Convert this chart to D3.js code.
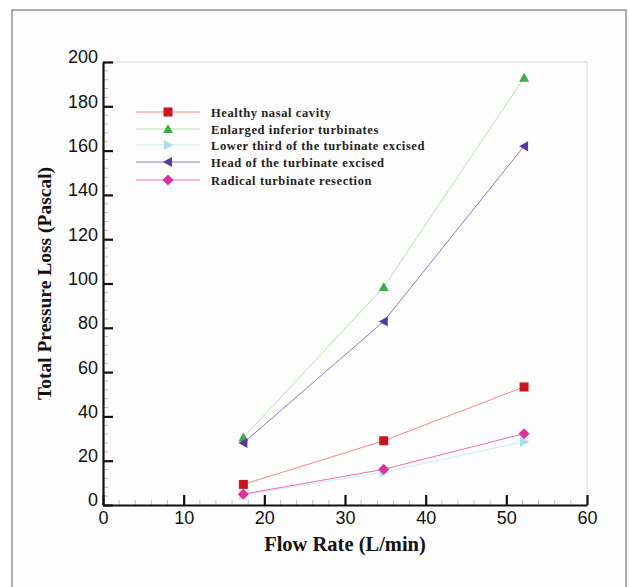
<!DOCTYPE html>
<html>
<head>
<meta charset="utf-8">
<script src="https://cdn.jsdelivr.net/npm/d3@7"></script>
<style>
  body { margin: 0; background: #ffffff; }
  svg { display: block; }
</style>
</head>
<body>
<div id="chart"></div>
<script>
// data
var flowRates = [17.4, 34.8, 52.2];
var seriesNames = [
  "Healthy nasal cavity",
  "Enlarged inferior turbinates",
  "Lower third of the turbinate excised",
  "Head of the turbinate excised",
  "Radical turbinate resection"
];
var healthy = [9.3, 29, 53.3];
var enlarged = [30.5, 98.4, 192.9];
var lowerThird = [4.6, 14.8, 28.6];
var headExcised = [28, 82.9, 162];
var radical = [4.9, 16.1, 32.2];
var xTicks = [0, 10, 20, 30, 40, 50, 60];
var yTicks = [0, 20, 40, 60, 80, 100, 120, 140, 160, 180, 200];

var W = 629, H = 587;
var margin = {left: 103, right: 42, top: 62, bottom: 82};
var plotW = W - margin.left - margin.right;
var plotH = H - margin.top - margin.bottom;

var svg = d3.select("#chart").append("svg")
  .attr("width", W).attr("height", H);

svg.append("rect").attr("x", 0).attr("y", 0).attr("width", W).attr("height", H).attr("fill", "#fff");
// outer frame
svg.append("rect")
  .attr("x", 12).attr("y", 10).attr("width", 614).attr("height", 600)
  .attr("fill", "#fdfdfd").attr("stroke", "#7a7a7a").attr("stroke-width", 1.2);

var g = svg.append("g").attr("transform", "translate(" + margin.left + "," + margin.top + ")");

var x = d3.scaleLinear().domain([0, 60]).range([0, plotW]);
var y = d3.scaleLinear().domain([0, 200]).range([plotH, 0]);

// light top/right border
g.append("path")
  .attr("d", "M0,0H" + plotW + "V" + plotH)
  .attr("fill", "none").attr("stroke", "#dcd2d2").attr("stroke-width", 1);

// minor ticks
var xMinor = d3.range(0, 61, 2).filter(function(d){ return d % 10 != 0; });
var yMinor = d3.range(0, 201, 4).filter(function(d){ return d % 20 != 0; });
g.append("g").selectAll("line").data(xMinor).enter().append("line")
  .attr("x1", function(d){ return x(d); }).attr("x2", function(d){ return x(d); })
  .attr("y1", plotH).attr("y2", plotH - 5)
  .attr("stroke", "#bdbdbd").attr("stroke-width", 1);
g.append("g").selectAll("line").data(yMinor).enter().append("line")
  .attr("y1", function(d){ return y(d); }).attr("y2", function(d){ return y(d); })
  .attr("x1", 0).attr("x2", 5)
  .attr("stroke", "#bdbdbd").attr("stroke-width", 1);

// axes (ticks point inward)
var xAxis = g.append("g").attr("transform", "translate(0," + plotH + ")")
  .call(d3.axisBottom(x).tickValues(xTicks).tickSizeInner(-10).tickSizeOuter(0).tickPadding(4));
var yAxis = g.append("g")
  .call(d3.axisLeft(y).tickValues(yTicks).tickSizeInner(-10).tickSizeOuter(0).tickPadding(5));
[xAxis, yAxis].forEach(function(a){
  a.select(".domain").attr("stroke", "#111").attr("stroke-width", 2.2);
  a.selectAll(".tick line").attr("stroke", "#111").attr("stroke-width", 2.2);
  a.selectAll(".tick text").attr("fill", "#111")
    .style("font-family", "Arial, 'Liberation Sans', sans-serif").style("font-size", "18px");
});
xAxis.selectAll(".tick text").attr("dy", "0.85em");
yAxis.selectAll(".tick text").attr("dy", "0.05em");

// series
var series = [
  {name: seriesNames[0], values: healthy, line: "#f08a8a", fill: "#c8161d", shape: "square"},
  {name: seriesNames[1], values: enlarged, line: "#b3e0b0", fill: "#3cae48", shape: "up"},
  {name: seriesNames[2], values: lowerThird, line: "#cdeaf2", fill: "#a9dcec", shape: "right"},
  {name: seriesNames[3], values: headExcised, line: "#8f7fc4", fill: "#553a9a", shape: "left"},
  {name: seriesNames[4], values: radical, line: "#ea6fb2", fill: "#e0309a", shape: "diamond"}
];

function markerPath(shape) {
  if (shape == "square") return "M-4.5,-4.5H4.5V4.5H-4.5Z";
  if (shape == "up") return "M0,-5L5,4L-5,4Z";
  if (shape == "right") return "M5,0L-4,-5L-4,5Z";
  if (shape == "left") return "M-5,0L4,-5L4,5Z";
  return "M0,-5.5L5.5,0L0,5.5L-5.5,0Z";
}

var line = d3.line().x(function(d){ return x(d[0]); }).y(function(d){ return y(d[1]); });

// draw in an order so the pink diamonds sit on top of the cyan ones
var drawOrder = [2, 0, 1, 3, 4];
drawOrder.forEach(function(i){
  var s = series[i];
  var pts = flowRates.map(function(f, k){ return [f, s.values[k]]; });
  g.append("path").datum(pts).attr("d", line)
    .attr("fill", "none").attr("stroke", s.line).attr("stroke-width", 1);
  g.append("g").selectAll("path").data(pts).enter().append("path")
    .attr("transform", function(d){ return "translate(" + x(d[0]) + "," + y(d[1]) + ")"; })
    .attr("d", markerPath(s.shape))
    .attr("fill", s.fill);
});

// legend
var legend = svg.append("g");
var legendY = [112, 129, 145, 162, 180];
series.forEach(function(s, i){
  var row = legend.append("g").attr("transform", "translate(0," + legendY[i] + ")");
  row.append("line").attr("x1", 136).attr("x2", 200).attr("y1", 0).attr("y2", 0)
    .attr("stroke", s.line).attr("stroke-width", 1);
  row.append("path").attr("transform", "translate(168,0)").attr("d", markerPath(s.shape)).attr("fill", s.fill);
  row.append("text").attr("x", 211).attr("y", 4.5)
    .style("font-family", "'Liberation Serif', 'Times New Roman', serif")
    .style("font-weight", "bold").style("font-size", "12.5px")
    .style("letter-spacing", "0.6px")
    .attr("fill", "#222")
    .text(s.name);
});

// axis titles
svg.append("text")
  .attr("x", margin.left + plotW / 2).attr("y", 551)
  .attr("text-anchor", "middle")
  .style("font-family", "'Liberation Serif', 'Times New Roman', serif")
  .style("font-weight", "bold").style("font-size", "20.5px").attr("fill", "#111")
  .text("Flow Rate (L/min)");
svg.append("text")
  .attr("transform", "translate(51," + (margin.top + plotH / 2) + ") rotate(-90)")
  .attr("text-anchor", "middle")
  .style("font-family", "'Liberation Serif', 'Times New Roman', serif")
  .style("font-weight", "bold").style("font-size", "19.5px").attr("fill", "#111")
  .text("Total Pressure Loss (Pascal)");
</script>
</body>
</html>
